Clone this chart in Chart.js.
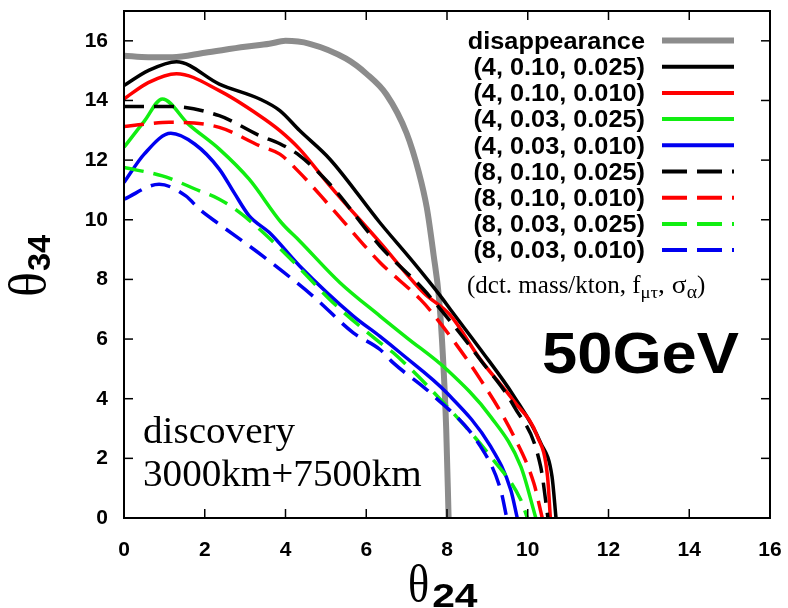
<!DOCTYPE html>
<html>
<head>
<meta charset="utf-8">
<script src="https://cdn.jsdelivr.net/npm/chart.js@4.4.1/dist/chart.umd.min.js"></script>
<style>
  html, body { margin: 0; padding: 0; background: #fff; }
  #wrap { width: 788px; height: 608px; }
</style>
</head>
<body>
<div id="wrap"><canvas id="chart" width="788" height="608"></canvas></div>
<script>
const xTicks = [0, 2, 4, 6, 8, 10, 12, 14, 16];
const yTicks = [0, 2, 4, 6, 8, 10, 12, 14, 16];

const seriesLabels = [
    "disappearance",
    "(4, 0.10, 0.025)",
    "(4, 0.10, 0.010)",
    "(4, 0.03, 0.025)",
    "(4, 0.03, 0.010)",
    "(8, 0.10, 0.025)",
    "(8, 0.10, 0.010)",
    "(8, 0.03, 0.025)",
    "(8, 0.03, 0.010)"
];

// disappearance
const disappX = [0, 0.6, 1.2, 2.0, 3.0, 3.6, 4.0, 4.6, 5.5, 6.0, 6.5, 7.0, 7.3, 7.5, 7.67, 7.8, 7.9, 7.98, 8.04];
const disappY = [15.5, 15.45, 15.45, 15.6, 15.8, 15.9, 16.0, 15.9, 15.4, 14.9, 14.2, 12.9, 11.6, 10.4, 8.8, 7.4, 5.4, 3.0, 0];

// (4, 0.10, 0.025)
const m4f10s25X = [0, 0.6, 1.3, 2.36, 3.36, 3.86, 4.35, 5.1, 6.34, 7.17, 7.84, 8.08, 8.83, 9.66, 10.32, 10.6, 10.7];
const m4f10s25Y = [14.5, 15.0, 15.3, 14.55, 14.05, 13.66, 12.99, 12.03, 9.9, 8.57, 7.44, 7.0, 5.65, 4.08, 2.52, 1.4, 0];

// (4, 0.10, 0.010)
const m4f10s10X = [0, 0.6, 1.3, 2.36, 3.36, 3.86, 4.35, 5.1, 6.34, 7.42, 8.08, 8.83, 9.66, 10.24, 10.49, 10.56];
const m4f10s10Y = [14.05, 14.6, 14.9, 14.33, 13.49, 12.99, 12.37, 11.14, 9.24, 7.55, 6.8, 5.31, 3.91, 2.73, 1.39, 0];

// (4, 0.03, 0.025)
const m4f03s25X = [0, 0.5, 0.95, 1.6, 2.36, 3.1, 3.9, 4.35, 5.35, 6.34, 7.0, 8.0, 9.08, 9.83, 10.2];
const m4f03s25Y = [12.43, 13.3, 14.05, 13.2, 12.37, 11.36, 9.9, 9.29, 7.89, 6.77, 6.05, 4.97, 3.4, 1.72, 0];

// (4, 0.03, 0.010)
const m4f03s10X = [0, 0.5, 1.16, 1.75, 2.36, 2.73, 3.1, 3.6, 4.35, 5.68, 6.34, 6.84, 8.0, 9.08, 9.58, 9.74];
const m4f03s10Y = [11.25, 12.2, 12.9, 12.54, 11.7, 10.9, 10.13, 9.57, 8.45, 6.77, 6.09, 5.54, 4.19, 2.4, 0.94, 0];

// (8, 0.10, 0.025)
const m8f10s25X = [0, 0.6, 1.12, 2.36, 3.36, 3.86, 4.35, 5.1, 6.34, 7.42, 8.08, 8.83, 9.66, 10.32, 10.5];
const m8f10s25Y = [13.8, 13.8, 13.8, 13.49, 12.82, 12.55, 12.15, 11.19, 9.12, 7.66, 6.6, 5.3, 3.74, 1.72, 0];

// (8, 0.10, 0.010)
const m8f10s10X = [0, 0.5, 1.12, 2.36, 3.36, 3.86, 4.35, 5.1, 6.34, 7.34, 7.59, 8.83, 9.66, 10.15, 10.36];
const m8f10s10Y = [13.13, 13.2, 13.27, 13.1, 12.48, 12.2, 11.58, 10.46, 8.57, 7.33, 6.95, 4.64, 2.73, 1.17, 0];

// (8, 0.03, 0.025)
const m8f03s25X = [0, 0.95, 1.87, 2.36, 2.86, 3.36, 4.19, 5.18, 6.34, 6.67, 8.0, 9.08, 9.83, 9.99];
const m8f03s25Y = [11.75, 11.47, 10.97, 10.69, 10.25, 9.68, 8.6, 7.22, 5.88, 5.54, 3.74, 2.06, 0.6, 0];

// (8, 0.03, 0.010)
const m8f03s10X = [0, 0.87, 1.53, 1.87, 2.36, 3.44, 4.68, 5.68, 6.34, 6.67, 7.59, 8.83, 9.33, 9.48];
const m8f03s10Y = [10.69, 11.19, 10.8, 10.35, 9.85, 8.78, 7.44, 6.21, 5.65, 5.2, 4.19, 2.4, 0.94, 0];

const zip = (xs, ys) => xs.map((x, i) => ({ x: x, y: ys[i] }));

const seriesData = [
    zip(disappX, disappY),
    zip(m4f10s25X, m4f10s25Y),
    zip(m4f10s10X, m4f10s10Y),
    zip(m4f03s25X, m4f03s25Y),
    zip(m4f03s10X, m4f03s10Y),
    zip(m8f10s25X, m8f10s25Y),
    zip(m8f10s10X, m8f10s10Y),
    zip(m8f03s25X, m8f03s25Y),
    zip(m8f03s10X, m8f03s10Y)
];

const GRAY = "#8c8c8c", BLACK = "#000000", RED = "#ff0000", GREEN = "#11ee11", BLUE = "#0000f0";
const DASH = [20, 10];
const seriesStyle = [
    { color: GRAY, width: 6, dash: [] },
    { color: BLACK, width: 3.5, dash: [] },
    { color: RED, width: 3.5, dash: [] },
    { color: GREEN, width: 3.5, dash: [] },
    { color: BLUE, width: 3.5, dash: [] },
    { color: BLACK, width: 3.5, dash: DASH },
    { color: RED, width: 3.5, dash: DASH },
    { color: GREEN, width: 3.5, dash: DASH },
    { color: BLUE, width: 3.5, dash: DASH }
];

function drawText(ctx, str, x, y, font, align, sx) {
    ctx.save();
    ctx.font = font;
    ctx.fillStyle = "#000";
    ctx.textAlign = align || "left";
    ctx.textBaseline = "alphabetic";
    ctx.translate(x, y);
    ctx.scale(sx || 1, 1);
    ctx.fillText(str, 0, 0);
    const w = ctx.measureText(str).width * (sx || 1);
    ctx.restore();
    return w;
}

function line(ctx, x1, y1, x2, y2) {
    ctx.beginPath();
    ctx.moveTo(x1, y1);
    ctx.lineTo(x2, y2);
    ctx.stroke();
}

const framePlugin = {
    id: "frame",
    afterDraw(chart) {
        const ctx = chart.ctx;
        const a = chart.chartArea;
        const xs = chart.scales.x, ys = chart.scales.y;
        ctx.save();
        ctx.strokeStyle = "#000";
        ctx.lineWidth = 1.5;
        xTicks.forEach(v => {
            const px = xs.getPixelForValue(v);
            line(ctx, px, a.bottom, px, a.bottom - 9);
            line(ctx, px, a.top, px, a.top + 9);
        });
        yTicks.forEach(v => {
            const py = ys.getPixelForValue(v);
            line(ctx, a.left, py, a.left + 9, py);
            line(ctx, a.right, py, a.right - 9, py);
        });
        ctx.lineWidth = 2;
        ctx.strokeRect(a.left, a.top, a.right - a.left, a.bottom - a.top);

        // legend
        const rowY0 = 40.5, rowGap = 26.2;
        seriesLabels.forEach((lab, i) => {
            const cy = rowY0 + i * rowGap;
            drawText(ctx, lab, 645, cy + 8.3, "bold 23px 'Liberation Sans', Arial, sans-serif", "right", 1.1);
            const st = seriesStyle[i];
            ctx.strokeStyle = st.color;
            ctx.lineWidth = i === 0 ? 6 : 4;
            ctx.setLineDash(st.dash.length ? [25, 10] : []);
            line(ctx, 662, cy, 734, cy);
        });
        ctx.setLineDash([]);

        // legend note
        const serif = "'Liberation Serif', 'Times New Roman', serif";
        let nx = 467;
        const nb = 293;
        nx += drawText(ctx, "(dct. mass/kton, f", nx, nb, "25px " + serif, "left", 1);
        nx += drawText(ctx, "\u03bc\u03c4", nx, nb + 5, "17px " + serif, "left", 1.1);
        nx += drawText(ctx, ", \u03c3", nx, nb, "25px " + serif, "left", 1.1);
        nx += drawText(ctx, "\u03b1", nx, nb + 5, "18px " + serif, "left", 1.1);
        drawText(ctx, ")", nx, nb, "25px " + serif, "left", 1);

        // energy label
        drawText(ctx, "50GeV", 542, 373, "bold 57px 'Liberation Sans', Arial, sans-serif", "left", 1.11);

        // discovery text
        drawText(ctx, "discovery", 143, 443, "38px " + serif, "left", 1.03);
        drawText(ctx, "3000km+7500km", 143, 486, "38px " + serif, "left", 1.03);

        // axis titles
        const tw = drawText(ctx, "\u03b8", 408, 601, "52px " + serif, "left", 0.85);
        drawText(ctx, "24", 408 + tw + 3, 607, "bold 34px 'Liberation Sans', Arial, sans-serif", "left", 1.2);

        ctx.save();
        ctx.translate(45, 297);
        ctx.rotate(-Math.PI / 2);
        const tw2 = drawText(ctx, "\u03b8", 0, 0, "52px " + serif, "left", 1);
        drawText(ctx, "34", tw2 + 1, 5, "bold 31px 'Liberation Sans', Arial, sans-serif", "left", 1.05);
        ctx.restore();

        ctx.restore();
    }
};

const tickFont = { family: "'Liberation Sans', Arial, sans-serif", size: 21, weight: "bold" };

new Chart(document.getElementById("chart").getContext("2d"), {
    type: "scatter",
    data: {
        datasets: seriesData.map((pts, i) => ({
            label: seriesLabels[i],
            data: pts,
            showLine: true,
            borderColor: seriesStyle[i].color,
            backgroundColor: seriesStyle[i].color,
            borderWidth: seriesStyle[i].width,
            borderDash: seriesStyle[i].dash,
            pointRadius: 0,
            fill: false,
            cubicInterpolationMode: "monotone",
            order: 9 - i
        }))
    },
    options: {
        responsive: false,
        animation: false,
        layout: { autoPadding: false, padding: { left: 0, top: 11, right: 18, bottom: 0 } },
        plugins: {
            legend: { display: false },
            tooltip: { enabled: false }
        },
        scales: {
            x: {
                type: "linear",
                min: 0,
                max: 16,
                afterBuildTicks: s => { s.ticks = xTicks.map(v => ({ value: v })); },
                afterFit: s => { s.height = 90; s.paddingLeft = 0; s.paddingRight = 0; },
                grid: { display: false, drawTicks: false },
                border: { display: false },
                ticks: { font: tickFont, color: "#000", padding: 20, maxRotation: 0, autoSkip: false }
            },
            y: {
                type: "linear",
                min: 0,
                max: 17,
                afterBuildTicks: s => { s.ticks = yTicks.map(v => ({ value: v })); },
                afterFit: s => { s.width = 124; s.paddingTop = 0; s.paddingBottom = 0; },
                grid: { display: false, drawTicks: false },
                border: { display: false },
                ticks: { font: tickFont, color: "#000", padding: 16, autoSkip: false }
            }
        }
    },
    plugins: [framePlugin]
});
</script>
</body>
</html>
